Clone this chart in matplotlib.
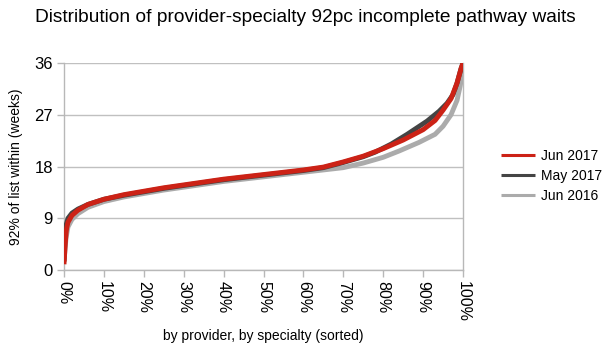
import matplotlib
matplotlib.use("Agg")
import matplotlib.pyplot as plt
from matplotlib.ticker import FuncFormatter

plt.rcParams['font.family'] = ['Liberation Sans', 'DejaVu Sans']

# Percentile position (% of provider-specialties, sorted) and 92nd percentile wait (weeks)
jun2017_pct = [0, 0.3, 0.6, 1, 2, 3.5, 6, 10, 15, 20, 25, 30, 35, 40, 45, 50, 55, 60, 65,
               70, 75, 80, 85, 90, 93, 95, 97, 98.5, 99.5, 100]
jun2017_wk = [1.0, 4.5, 7.0, 8.3, 9.5, 10.4, 11.4, 12.3, 13.1, 13.7, 14.3, 14.8, 15.3, 15.8,
              16.2, 16.6, 17.0, 17.4, 17.9, 18.8, 19.8, 21.1, 22.6, 24.4, 26.0, 27.8, 29.8,
              32.5, 35.0, 36.0]

may2017_pct = [0, 0.3, 0.6, 1, 2, 3.5, 6, 10, 15, 20, 25, 30, 35, 40, 45, 50, 55, 60, 65,
               70, 75, 78, 82, 86, 91, 94, 96, 97.5, 98.5, 99.5, 100]
may2017_wk = [1.5, 6.0, 8.0, 9.0, 9.9, 10.6, 11.4, 12.3, 13.0, 13.6, 14.2, 14.7, 15.2, 15.7,
              16.1, 16.5, 16.9, 17.3, 17.8, 18.7, 19.7, 20.5, 21.9, 23.6, 25.9, 27.6, 29.0,
              30.5, 32.5, 35.0, 36.0]

jun2016_pct = [0, 0.5, 1, 2, 3.5, 6, 10, 15, 20, 25, 30, 35, 40, 45, 50, 55, 60, 65, 70, 75,
               80, 84, 89, 93, 95, 97, 98.5, 99.3, 100]
jun2016_wk = [1.5, 5.5, 7.5, 8.8, 9.8, 10.9, 11.9, 12.7, 13.3, 13.9, 14.4, 14.9, 15.4, 15.8,
              16.2, 16.6, 17.0, 17.4, 17.8, 18.6, 19.6, 20.7, 22.2, 23.6, 25.0, 27.0, 29.5,
              32.0, 35.0]

series_labels = ["Jun 2017", "May 2017", "Jun 2016"]
y_ticks = [0, 9, 18, 27, 36]
x_ticks = [0, 10, 20, 30, 40, 50, 60, 70, 80, 90, 100]

fig = plt.figure(figsize=(6.10, 3.52), dpi=100)
ax = fig.add_axes([64/610, 1-270/352, (463-64)/610, (270-63)/352])

l3, = ax.plot(jun2016_pct, jun2016_wk, color='#ababab', lw=3.5, solid_capstyle='butt', zorder=3)
l2, = ax.plot(may2017_pct, may2017_wk, color='#444444', lw=3.5, solid_capstyle='butt', zorder=4)
l1, = ax.plot(jun2017_pct, jun2017_wk, color='#cc2216', lw=3.5, solid_capstyle='butt', zorder=5)

ax.set_xlim(0, 100)
ax.set_ylim(0, 36)
ax.set_yticks(y_ticks)
ax.set_xticks(x_ticks)
ax.xaxis.set_major_formatter(FuncFormatter(lambda v, p: f"{v:.0f}%"))
ax.yaxis.grid(True, color='#c0c0c0', lw=1.0)
ax.set_axisbelow(True)
for side in ['left', 'right', 'bottom']:
    ax.spines[side].set_color('#b8b8b8')
    ax.spines[side].set_linewidth(1.0)
ax.spines['top'].set_visible(False)
ax.tick_params(axis='x', colors='#b8b8b8', labelcolor='black', length=5, width=1,
               labelsize=11.5, labelrotation=-90, pad=3)
ax.tick_params(axis='y', colors='#b8b8b8', labelcolor='black', length=5, width=1,
               labelsize=12, pad=3)

ax.set_xlabel("by provider, by specialty (sorted)", fontsize=10, labelpad=5)
ax.set_ylabel("92% of list within (weeks)", fontsize=10, labelpad=8)

fig.text(0.5, 1-18/352, "Distribution of provider-specialty 92pc incomplete pathway waits",
         ha='center', va='center', fontsize=13.8)

leg = fig.legend([l1, l2, l3], series_labels, loc='center left',
                 bbox_to_anchor=(488/610, 1-176/352), frameon=False, fontsize=10,
                 handlelength=2.5, handletextpad=0.4, labelspacing=0.45)
for h in leg.get_lines():
    h.set_linewidth(2.2)

fig.savefig("out.png", dpi=100)
